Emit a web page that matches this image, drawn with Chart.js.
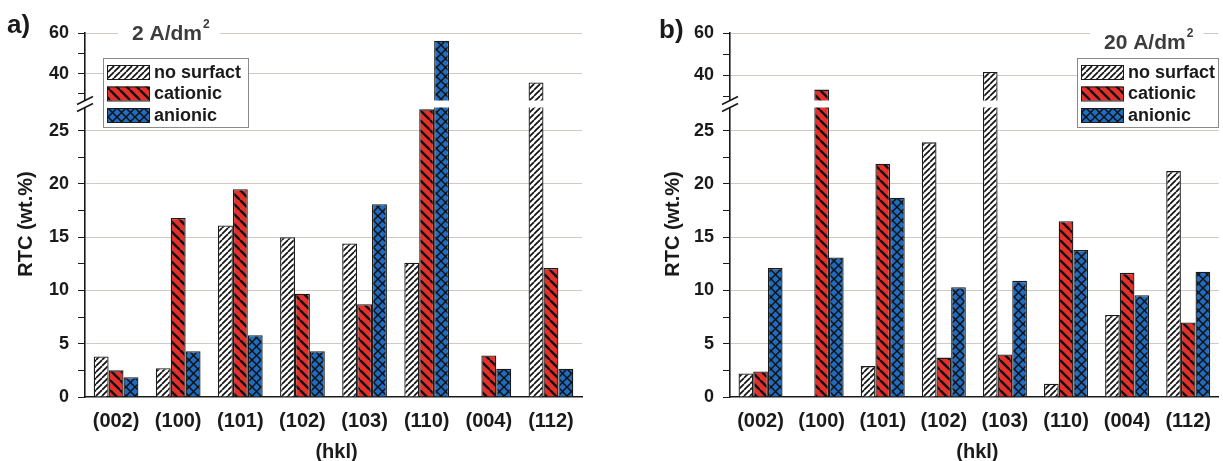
<!DOCTYPE html>
<html>
<head>
<meta charset="utf-8">
<script src="https://cdn.jsdelivr.net/npm/chart.js@4.4.1/dist/chart.umd.min.js"></script>
<style>
  html, body { margin: 0; padding: 0; background: #fff; }
  #wrap { position: relative; width: 1223px; height: 461px; }
  #boxA { position: absolute; left: 0; top: 0; width: 600px; height: 461px; }
  #boxB { position: absolute; left: 600px; top: 0; width: 623px; height: 461px; }
</style>
</head>
<body>
<div id="wrap">
  <div id="boxA"><canvas id="chartA"></canvas></div>
  <div id="boxB"><canvas id="chartB"></canvas></div>
</div>
<script>
const hkl = ['(002)', '(100)', '(101)', '(102)', '(103)', '(110)', '(004)', '(112)'];
const seriesNames = ['no surfact', 'cationic', 'anionic'];

// a) 2 A/dm2
const aNoSurfact = [3.8, 2.7, 16.1, 15.0, 14.4, 12.6, null, 35.6];
const aCationic  = [2.5, 16.8, 19.5, 9.7, 8.7, 27.0, 3.9, 12.1];
const aAnionic   = [1.85, 4.3, 5.8, 4.3, 18.1, 56.2, 2.65, 2.65];

// b) 20 A/dm2
const bNoSurfact = [2.2, null, 2.9, 23.9, 41.6, 1.25, 7.7, 21.2];
const bCationic  = [2.4, 33.3, 21.9, 3.7, 4.0, 16.5, 11.65, 7.0];
const bAnionic   = [12.1, 13.1, 18.7, 10.3, 10.9, 13.8, 9.55, 11.75];

// broken y axis: lower part 0..27.5, upper part up to 60
const lowTicks = [0, 2.5, 5, 7.5, 10, 12.5, 15, 17.5, 20, 22.5, 25];
const lowLabels = [0, 5, 10, 15, 20, 25];
const highTicks = [30, 40, 50, 60];
const highLabels = [40, 60];
const LOW_MAX = 27.5;

const FONT = '"Liberation Sans", Arial, sans-serif';
const RED = '#e5302b';
const BLUE = '#1f6cc0';
const INK = '#1a1a1a';
const GRID = '#d2c9c4';

function makePattern(bg, kind, size, lw) {
  const c = document.createElement('canvas');
  c.width = size; c.height = size;
  const g = c.getContext('2d');
  g.fillStyle = bg;
  g.fillRect(0, 0, size, size);
  g.strokeStyle = '#111';
  g.lineWidth = lw;
  for (const k of [-size, 0, size]) {
    if (kind === '/' || kind === 'x') {
      g.beginPath(); g.moveTo(k, size); g.lineTo(k + size, 0); g.stroke();
    }
    if (kind === '\\' || kind === 'x') {
      g.beginPath(); g.moveTo(k, 0); g.lineTo(k + size, size); g.stroke();
    }
  }
  return g.createPattern(c, 'repeat');
}

const fills = [
  makePattern('#ffffff', '/', 6, 1.7),
  makePattern(RED, '\\', 10, 2.4),
  makePattern(BLUE, 'x', 9, 1.5),
];

const lowPart = arr => arr.map(v => v == null ? null : Math.min(v, LOW_MAX));
const highPart = arr => arr.map(v => v != null && v > LOW_MAX ? v : null);

const decor = {
  id: 'decor',
  afterDraw(chart, args, o) {
    const ctx = chart.ctx;
    const area = chart.chartArea;
    const by = chart.scales.y.top;
    ctx.save();

    // white gap at the axis break
    ctx.fillStyle = '#fff';
    ctx.fillRect(area.left - 9, by - 3.5, area.right - area.left + 9, 7);
    ctx.strokeStyle = INK;
    ctx.lineWidth = 1.6;
    for (const d of [-3.5, 3.5]) {
      ctx.beginPath();
      ctx.moveTo(area.left - 8, by + d + 4);
      ctx.lineTo(area.left + 8, by + d - 4);
      ctx.stroke();
    }

    // panel letter
    ctx.fillStyle = INK;
    ctx.font = 'bold 26px ' + FONT;
    ctx.textBaseline = 'middle';
    ctx.textAlign = 'left';
    ctx.fillText(o.letter, o.letterX, o.letterY);

    // current density title with white backing over the grid
    ctx.font = 'bold 21px ' + FONT;
    const tw = ctx.measureText(o.title).width;
    ctx.fillStyle = '#fff';
    ctx.fillRect(o.titleX - 14, o.titleY - 12, tw + 32, 24);
    ctx.fillStyle = '#3c3c3c';
    ctx.fillText(o.title, o.titleX, o.titleY);
    ctx.font = 'bold 12px ' + FONT;
    ctx.fillText('2', o.titleX + tw + 1, o.titleY - 9);

    // legend
    const lg = o.legend;
    ctx.fillStyle = '#fff';
    ctx.fillRect(lg.x, lg.y, lg.w, lg.h);
    ctx.strokeStyle = '#8a8a8a';
    ctx.lineWidth = 1;
    ctx.strokeRect(lg.x + 0.5, lg.y + 0.5, lg.w, lg.h);
    ctx.font = 'bold 18px ' + FONT;
    seriesNames.forEach((name, i) => {
      const cy = lg.y + 14 + i * 21.5;
      ctx.fillStyle = fills[i];
      ctx.fillRect(lg.x + 4, cy - 7, 42, 14);
      ctx.strokeStyle = INK;
      ctx.strokeRect(lg.x + 4.5, cy - 6.5, 42, 14);
      ctx.fillStyle = INK;
      ctx.fillText(name, lg.x + 51, cy + 1);
    });

    // axis titles
    ctx.fillStyle = INK;
    ctx.font = 'bold 20px ' + FONT;
    ctx.textAlign = 'center';
    ctx.fillText('(hkl)', (area.left + area.right) / 2 + 3, 452);
    ctx.translate(o.yTitleX, 224);
    ctx.rotate(-Math.PI / 2);
    ctx.fillText('RTC (wt.%)', 0, 0);
    ctx.restore();
  }
};

function buildDatasets(ns, cat, an) {
  const series = [ns, cat, an];
  const sets = [];
  series.forEach((arr, i) => {
    sets.push({
      label: seriesNames[i], data: lowPart(arr), yAxisID: 'y', stack: 's' + i,
      backgroundColor: fills[i], borderColor: INK, borderWidth: 1.3
    });
  });
  series.forEach((arr, i) => {
    sets.push({
      label: seriesNames[i], data: highPart(arr), yAxisID: 'y2', stack: 's' + i,
      backgroundColor: fills[i], borderColor: INK, borderWidth: 1.3
    });
  });
  return sets;
}

function yScale(ticksList, labelList, min, max, weight) {
  return {
    type: 'linear',
    position: 'left',
    stack: 'rtc',
    stackWeight: weight,
    min: min,
    max: max,
    stacked: false,
    afterBuildTicks: s => { s.ticks = ticksList.map(v => ({ value: v })); },
    afterFit: s => { s.width = 42; },
    ticks: {
      autoSkip: false,
      callback: v => labelList.includes(v) ? String(v) : '',
      font: { family: FONT, size: 18, weight: 'bold' },
      color: INK,
      padding: 9
    },
    grid: {
      color: c => (c.tick && labelList.includes(c.tick.value) && c.tick.value !== 0) ? GRID : 'rgba(0,0,0,0)',
      tickColor: INK,
      tickLength: 7,
      lineWidth: 1
    },
    border: { display: true, color: INK, width: 1.6 }
  };
}

function makeChart(id, ns, cat, an, deco, padLeft, padRight, highMin) {
  return new Chart(document.getElementById(id), {
    type: 'bar',
    data: { labels: hkl, datasets: buildDatasets(ns, cat, an) },
    plugins: [decor],
    options: {
      responsive: true,
      maintainAspectRatio: false,
      animation: false,
      layout: { padding: { left: padLeft, right: padRight, top: 33, bottom: 0 } },
      categoryPercentage: 0.72,
      barPercentage: 1.0,
      scales: {
        x: {
          type: 'category',
          offset: true,
          grid: { display: false, drawTicks: false },
          border: { display: true, color: INK, width: 1.6 },
          ticks: { font: { family: FONT, size: 20, weight: 'bold' }, color: INK, padding: 12, maxRotation: 0, autoSkip: false },
          afterFit: s => { s.height = 64; }
        },
        y: yScale(lowTicks, lowLabels, 0, LOW_MAX, 293),
        y2: yScale(highTicks, highLabels, highMin, 60, 71)
      },
      plugins: {
        legend: { display: false },
        tooltip: { enabled: false },
        decor: deco
      }
    }
  });
}

makeChart('chartA', aNoSurfact, aCationic, aAnionic, {
  letter: 'a)', letterX: 7, letterY: 26,
  title: '2 A/dm', titleX: 132, titleY: 34,
  legend: { x: 103, y: 58, w: 145, h: 69 },
  yTitleX: 26
}, 43, 18, 25);

makeChart('chartB', bNoSurfact, bCationic, bAnionic, {
  letter: 'b)', letterX: 59, letterY: 31,
  title: '20 A/dm', titleX: 504, titleY: 43,
  legend: { x: 477, y: 58, w: 141, h: 69 },
  yTitleX: 73
}, 88, 0, 26.5);
</script>
</body>
</html>
